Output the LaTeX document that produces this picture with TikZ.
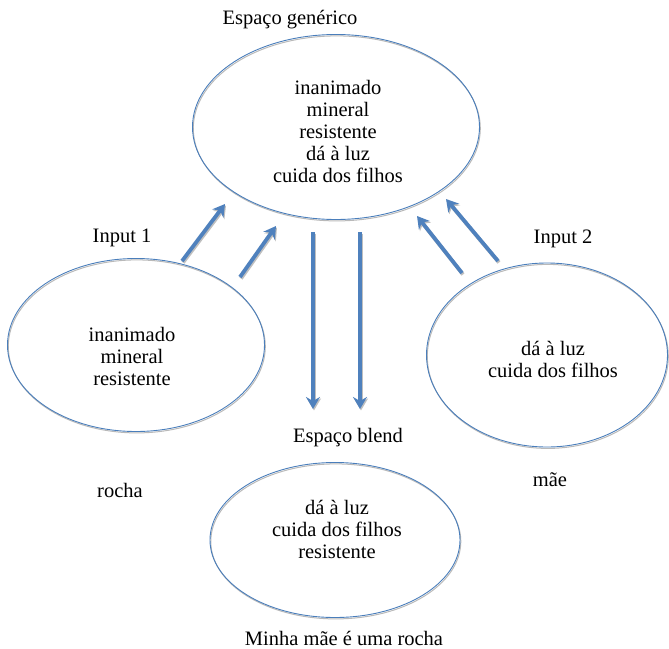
\documentclass[tikz,border=0pt]{standalone}
\usepackage{fontspec}
\setmainfont{Liberation Serif}
\usetikzlibrary{shapes.geometric,arrows.meta}
\definecolor{wblue}{HTML}{4A7EBB}
\definecolor{ablue}{HTML}{4F81BD}
\begin{document}
\begin{tikzpicture}[x=1pt,y=-1pt,
  oval/.style={ellipse,draw=wblue,line width=0.9pt,inner sep=0pt,
    preaction={draw=gray!55,line width=1pt,transform canvas={shift={(0.8pt,-1.4pt)}}}},
  txt/.style={font=\fontsize{20.5}{22}\selectfont,align=center,inner sep=0pt},
  bigarrow/.style={draw=ablue,line width=3.8pt,
    -{Stealth[length=12pt,width=14pt,inset=4pt]},
    preaction={draw=gray!50,line width=3.8pt,-{Stealth[length=12pt,width=14pt,inset=4pt]},transform canvas={shift={(1pt,-1.5pt)}}}}]
\useasboundingbox (0,0) rectangle (669,648);
% ellipses
\node[oval,minimum width=287pt,minimum height=185pt] (gen) at (336,127) {};
\node[oval,minimum width=257pt,minimum height=173pt] (in1) at (136,345) {};
\node[oval,minimum width=241pt,minimum height=184pt] (in2) at (547,355) {};
\node[oval,minimum width=250pt,minimum height=155pt] (bl) at (335,540) {};
% texts
\node[txt] (gent) at (338,131) {inanimado\\mineral\\resistente\\dá à luz\\cuida dos filhos};
\node[txt] (in1t) at (132,356) {inanimado\\mineral\\resistente};
\node[txt] (in2t) at (553,359) {dá à luz\\cuida dos filhos};
\node[txt] (blt) at (337,529) {dá à luz\\cuida dos filhos\\resistente};
\node[txt] (lgen) at (290,20) {Espaço genérico};
\node[txt] (lin1) at (122,238) {Input 1};
\node[txt] (lin2) at (563,239) {Input 2};
\node[txt] (lrocha) at (120,490) {rocha};
\node[txt] (lmae) at (550,480) {mãe};
\node[txt] (lbl) at (348,438) {Espaço blend};
\node[txt] (lmin) at (344,638) {Minha mãe é uma rocha};
% arrow endpoints
\coordinate (a1s) at (182,261); \coordinate (a1e) at (225,204);
\coordinate (a2s) at (240,277); \coordinate (a2e) at (276,226);
\coordinate (d1s) at (313,232); \coordinate (d1e) at (313,409);
\coordinate (d2s) at (360,232); \coordinate (d2e) at (360,409);
\coordinate (b1s) at (462,273); \coordinate (b1e) at (417,216);
\coordinate (b2s) at (498,261); \coordinate (b2e) at (446,199);
\draw[bigarrow] (a1s) -- (a1e);
\draw[bigarrow] (a2s) -- (a2e);
\draw[bigarrow] (d1s) -- (d1e);
\draw[bigarrow] (d2s) -- (d2e);
\draw[bigarrow] (b1s) -- (b1e);
\draw[bigarrow] (b2s) -- (b2e);
\end{tikzpicture}
\end{document}
